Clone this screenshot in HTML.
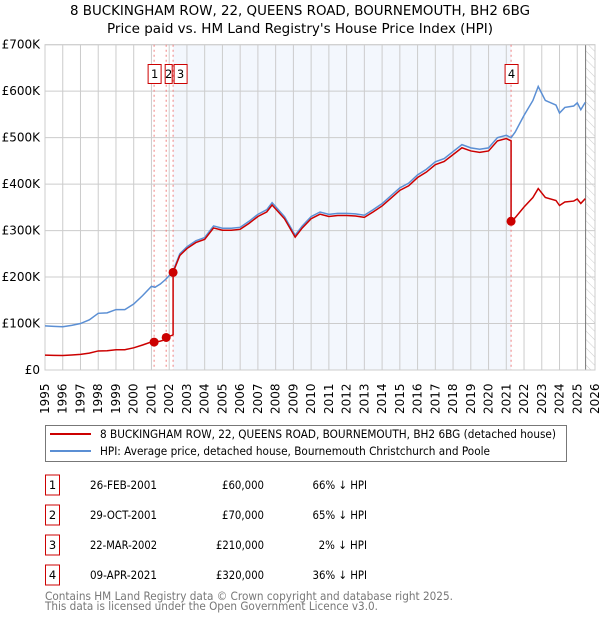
<!DOCTYPE html>
<html><head><meta charset="utf-8"><style>
body{margin:0;background:#fff;font-family:"DejaVu Sans","Liberation Sans",sans-serif;}
svg text{font-family:"DejaVu Sans","Liberation Sans",sans-serif;}
</style></head><body>
<svg id="c" width="600" height="620" xmlns="http://www.w3.org/2000/svg">
<text x="70" y="15" font-size="13" textLength="460" lengthAdjust="spacingAndGlyphs">8 BUCKINGHAM ROW, 22, QUEENS ROAD, BOURNEMOUTH, BH2 6BG</text>
<text x="107" y="33" font-size="13" textLength="386" lengthAdjust="spacingAndGlyphs">Price paid vs. HM Land Registry's House Price Index (HPI)</text>
<g id="plot"></g>
<g>
<rect x="45.5" y="425.5" width="521" height="36" fill="#fff" stroke="#777"/>
<line x1="50" y1="434" x2="91" y2="434" stroke="#cc0000" stroke-width="2"/>
<text x="100" y="438" font-size="11.5" textLength="456" lengthAdjust="spacingAndGlyphs">8 BUCKINGHAM ROW, 22, QUEENS ROAD, BOURNEMOUTH, BH2 6BG (detached house)</text>
<line x1="50" y1="451" x2="91" y2="451" stroke="#5b8fd4" stroke-width="2"/>
<text x="100" y="455" font-size="11.5" textLength="390" lengthAdjust="spacingAndGlyphs">HPI: Average price, detached house, Bournemouth Christchurch and Poole</text>
</g>
<g id="table" font-size="11.5"></g>
<text x="45" y="600" font-size="11.5" fill="#777" textLength="408" lengthAdjust="spacingAndGlyphs">Contains HM Land Registry data © Crown copyright and database right 2025.</text>
<text x="45" y="610" font-size="11.5" fill="#777" textLength="333" lengthAdjust="spacingAndGlyphs">This data is licensed under the Open Government Licence v3.0.</text>
</svg>
<script>
const hpiYears=[1995,1995.5,1996,1996.5,1997,1997.5,1998,1998.5,1999,1999.5,2000,2000.5,2001,2001.2,2001.5,2001.8,2002.2,2002.6,2003,2003.5,2004,2004.5,2005,2005.5,2006,2006.5,2007,2007.5,2007.8,2008.5,2009.1,2009.5,2010,2010.5,2011,2011.5,2012,2012.5,2013,2013.5,2014,2014.5,2015,2015.5,2016,2016.5,2017,2017.5,2018,2018.5,2019,2019.5,2020,2020.5,2021,2021.27,2021.5,2022,2022.5,2022.8,2023.2,2023.8,2024,2024.3,2024.8,2025,2025.2,2025.45];
const hpiValues=[95,94,93,96,100,108,122,123,130,130,142,160,180,178,185,195,211,250,265,278,285,310,305,305,307,320,335,345,360,330,290,310,330,340,335,337,337,336,333,345,358,375,392,402,420,432,448,455,470,485,478,475,478,500,505,500,512,548,580,610,580,570,553,565,568,575,560,576];
const saleLabels=["1","2","3","4"];
const saleDates=["26-FEB-2001","29-OCT-2001","22-MAR-2002","09-APR-2021"];
const saleYears=[2001.15,2001.83,2002.22,2021.27];
const salePrices=[60,70,210,320];
const saleDiffs=["66% ↓ HPI","65% ↓ HPI","2% ↓ HPI","36% ↓ HPI"];
const yTicks=[0,100,200,300,400,500,600,700];
const yTickLabels=["£0","£100K","£200K","£300K","£400K","£500K","£600K","£700K"];
const xTicks=[];for(let y=1995;y<=2026;y++)xTicks.push(y);

const L=45,R=595,T=44.7,B=370,Y0=1995,Y1=2026,VMAX=700;
const X=t=>L+(t-Y0)/(Y1-Y0)*(R-L);
const Yv=v=>B-v/VMAX*(B-T);
const NS="http://www.w3.org/2000/svg";
const plot=document.getElementById('plot');
function mk(tag,attrs,parent){const e=document.createElementNS(NS,tag);for(const k in attrs)e.setAttribute(k,attrs[k]);(parent||plot).appendChild(e);return e;}
function hpiAt(t){for(let i=0;i<hpiYears.length-1;i++){if(t>=hpiYears[i]&&t<=hpiYears[i+1]){const f=(t-hpiYears[i])/(hpiYears[i+1]-hpiYears[i]);return hpiValues[i]+f*(hpiValues[i+1]-hpiValues[i]);}}return hpiValues[hpiValues.length-1];}

let e=mk('rect',{x:L,y:T,width:R-L,height:B-T,fill:'#fff'});


e=mk('rect',{x:X(saleYears[2]),y:T,width:X(saleYears[3])-X(saleYears[2]),height:B-T,fill:'#eef3fc',opacity:0.7});


const defs=mk('defs',{});
const pat=mk('pattern',{id:'h',width:6,height:6,patternUnits:'userSpaceOnUse',patternTransform:'rotate(-45)'},defs);
mk('line',{x1:0,y1:0,x2:0,y2:6,stroke:'#ccc','stroke-width':1},pat);
e=mk('rect',{x:X(2025.47),y:T,width:R-X(2025.47),height:B-T,fill:'url(#h)'});


xTicks.forEach(t=>{mk('line',{x1:X(t),y1:T,x2:X(t),y2:B,stroke:'#ccc','stroke-width':1});
 const tx=mk('text',{x:0,y:0,'font-size':12,transform:`translate(${X(t)+4},${B+44}) rotate(-90)`});tx.textContent=t;
 
 });
yTicks.forEach((v,i)=>{mk('line',{x1:L,y1:Yv(v),x2:R,y2:Yv(v),stroke:'#ccc','stroke-width':1});
 const tx=mk('text',{x:L-5,y:Yv(v)+4,'font-size':12,'text-anchor':'end'});tx.textContent=yTickLabels[i];
 
 });
mk('line',{x1:X(2025.47),y1:T,x2:X(2025.47),y2:B,stroke:'#777','stroke-width':1});
mk('rect',{x:L,y:T,width:R-L,height:B-T,fill:'none',stroke:'#ccc'});
saleYears.forEach(s=>mk('line',{x1:X(s),y1:T,x2:X(s),y2:B,stroke:'#f08080','stroke-width':1,'stroke-dasharray':'2,3'}));
e=mk('polyline',{points:hpiYears.map((t,i)=>X(t)+','+Yv(hpiValues[i])).join(' '),fill:'none',stroke:'#5b8fd4','stroke-width':1.5});


const pts=[];
const ratio=saleYears.map((s,i)=>salePrices[i]/hpiAt(s));
function seg(k,t){return hpiAt(t)*ratio[k];}
hpiYears.forEach(t=>{let k=0;for(let i=0;i<saleYears.length;i++)if(t>=saleYears[i])k=i;
 pts.push([t,seg(k,t)]);});
saleYears.forEach((s,i)=>{if(i>0)pts.push([s-0.0001,seg(i-1,s)]);pts.push([s,salePrices[i]]);});
pts.sort((a,b)=>a[0]-b[0]);
e=mk('polyline',{points:pts.map(p=>X(p[0])+','+Yv(p[1])).join(' '),fill:'none',stroke:'#cc0000','stroke-width':1.5});


saleYears.forEach((s,i)=>{const c=mk('circle',{cx:X(s),cy:Yv(salePrices[i]),r:4.5,fill:'#cc0000'});
 
 });
const lblX=[X(saleYears[0])-6,X(saleYears[1])-4,X(saleYears[2])+1,X(saleYears[3])-6];
saleLabels.forEach((l,i)=>{const w=i==1?7:13;const bx=i==1?lblX[i]+3:lblX[i];
 mk('rect',{x:bx,y:64.5,width:w,height:19,fill:'#fff',stroke:'#cc0000'});
 const tx=mk('text',{x:bx+w/2,y:78,'font-size':11.5,'text-anchor':'middle'});tx.textContent=l;
 
 });
const tb=document.getElementById('table');
saleLabels.forEach((l,i)=>{const y=485+i*30;
 mk('rect',{x:45.5,y:y-10,width:14,height:20,fill:'#fff',stroke:'#cc0000'},tb);
 let t=mk('text',{x:52.5,y:y+4,'text-anchor':'middle'},tb);t.textContent=l;
 
 
 const dl=saleDates[i].length*6.1;
 t=mk('text',{x:123.5-dl/2,y:y+4,textLength:dl,lengthAdjust:'spacingAndGlyphs'},tb);t.textContent=saleDates[i];
 
 
 const ps='£'+(salePrices[i]*1000).toLocaleString('en-GB');
 const pw=ps.length*6;
 t=mk('text',{x:264-pw,y:y+4,textLength:pw,lengthAdjust:'spacingAndGlyphs'},tb);t.textContent=ps;
 
 
 const dw=saleDiffs[i].length*6.05;
 t=mk('text',{x:367-dw,y:y+4,textLength:dw,lengthAdjust:'spacingAndGlyphs'},tb);t.textContent=saleDiffs[i];
 
 });
</script>
</body></html>
